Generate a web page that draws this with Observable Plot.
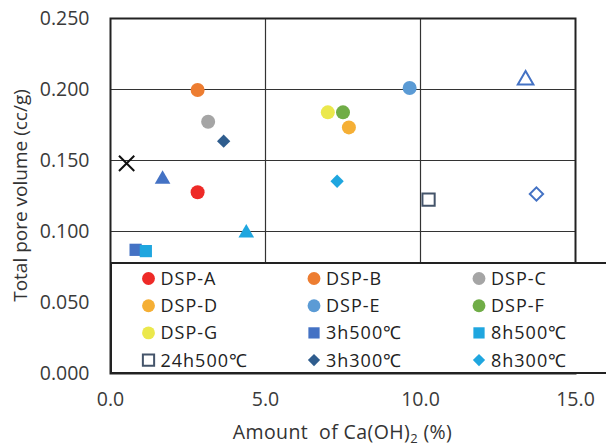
<!DOCTYPE html>
<html><head><meta charset="utf-8">
<script src="https://cdn.jsdelivr.net/npm/d3@7"></script>
<script src="https://cdn.jsdelivr.net/npm/@observablehq/plot@0.6"></script>
<style>
body{margin:0;background:#fff}
#chart svg{font-family:"Open Sans",sans-serif;overflow:hidden}
</style>
</head><body><div id="chart"></div>
<script>
// ---- data ----
const seriesNames = ["DSP-A","DSP-B","DSP-C","DSP-D","DSP-E","DSP-F","DSP-G","3h500℃","8h500℃","24h500℃","3h300℃","8h300℃","series-13","series-14","series-15","series-16","series-17"];
const xValues = [2.81,2.81,3.15,7.69,9.65,7.50,7.01,0.81,1.14,10.26,3.65,7.31,0.52,1.68,4.38,13.39,13.74];
const yValues = [0.1276,0.1996,0.1773,0.1733,0.2011,0.1839,0.1839,0.0871,0.0862,0.1225,0.1636,0.1354,0.1480,0.1368,0.0989,0.2067,0.1264];
const xTicks = [0, 5, 10, 15];
const yTicks = [0, 0.05, 0.10, 0.15, 0.20, 0.25];
const legendCount = 12;

// ---- styles ----
const symbolOf = ["circle","circle","circle","circle","circle","circle","circle","square","square","square","diamond2","diamond2","times","triangle","triangle","triangle","diamond2"];
const colorOf = ["#ee2a27","#ed7d31","#a5a5a5","#f5af35","#5b9bd5","#70ad47","#ebe84c","#4472c4","#1fa6df","#44546a","#2f5d8e","#1fa6df","#111111","#4472c4","#1fa6df","#4472c4","#4472c4"];
const hollowOf = [false,false,false,false,false,false,false,false,false,true,false,false,true,false,false,true,true];
const radiusBySymbol = {circle:7, square:6.9, diamond2:6, times:7, triangle:5.8};

const W = 606, H = 447;
const mL = 110, mR = 31, mT = 18, mB = 74;

const dotMarks = seriesNames.map((name, i) => Plot.dot([i], {
  x: j => xValues[j], y: j => yValues[j],
  symbol: symbolOf[i], r: radiusBySymbol[symbolOf[i]],
  fill: hollowOf[i] ? "none" : colorOf[i],
  stroke: hollowOf[i] ? colorOf[i] : "none",
  strokeWidth: 2
}));

const chart = Plot.plot({
  width: W, height: H,
  marginLeft: mL, marginRight: mR, marginTop: mT, marginBottom: mB,
  style: {fontSize: "19.5px", fontFamily: "'Open Sans', sans-serif", color: "#333", background: "#fff"},
  x: {domain: [0, 15]},
  y: {domain: [0, 0.25]},
  marks: [
    Plot.ruleY(yTicks.slice(1, -1), {stroke: "#333", strokeWidth: 1.2}),
    Plot.ruleX(xTicks.slice(1, -1), {stroke: "#333", strokeWidth: 1.2}),
    Plot.axisX({ticks: xTicks, tickFormat: d => d.toFixed(1), tickSize: 0, tickPadding: 19, label: null, fill: "#3a3a3a"}),
    Plot.axisY({ticks: yTicks, tickFormat: d => d.toFixed(3), tickSize: 0, tickPadding: 21, label: null, fill: "#3a3a3a"}),
    Plot.frame({stroke: "#222", strokeWidth: 2}),
    ...dotMarks
  ]
});
document.getElementById("chart").append(chart);

const svg = d3.select(chart);
const xs = chart.scale("x"), ys = chart.scale("y");
const plotLeft = xs.range[0], plotRight = xs.range[1];
const plotTop = ys.range[1], plotBottom = ys.range[0];

// ---- legend box ----
const lg = svg.append("g").attr("font-family", "'Open Sans', sans-serif").attr("font-size", 18).attr("text-anchor", "start");
const boxTop = plotBottom - 110;
lg.append("rect").attr("x", plotLeft + 1).attr("y", boxTop).attr("width", 520).attr("height", plotBottom - boxTop)
  .attr("fill", "#fff").attr("stroke", "#222").attr("stroke-width", 2);
const colX = [plotLeft + 38.5, plotLeft + 204, plotLeft + 369];
const rowY0 = boxTop + 15.5, rowStep = 27.2;
const d3Sym = {circle: d3.symbolCircle, square: d3.symbolSquare, diamond2: d3.symbolDiamond2, times: d3.symbolTimes, triangle: d3.symbolTriangle};
for (let i = 0; i < legendCount; i++) {
  const cx = colX[i % 3], cy = rowY0 + Math.floor(i / 3) * rowStep;
  const sym = symbolOf[i], r = radiusBySymbol[sym] * 0.92;
  lg.append("path").attr("transform", `translate(${cx},${cy})`)
    .attr("d", d3.symbol(d3Sym[sym], Math.PI * r * r)())
    .attr("fill", hollowOf[i] ? "#fff" : colorOf[i])
    .attr("stroke", hollowOf[i] ? colorOf[i] : "none").attr("stroke-width", 2);
  lg.append("text").attr("x", cx + 12).attr("y", cy).attr("dy", "0.36em")
    .attr("fill", "#222").attr("letter-spacing", 1).text(seriesNames[i]);
}

// ---- axis titles ----
svg.append("text").attr("transform", `translate(20,${(plotTop + plotBottom) / 2}) rotate(-90)`)
  .attr("text-anchor", "middle").attr("dy", "0.35em").attr("font-size", 19).attr("fill", "#333")
  .text("Total pore volume (cc/g)");
const xt = svg.append("text").attr("x", (plotLeft + plotRight) / 2).attr("y", 439)
  .attr("text-anchor", "middle").attr("font-size", 19.5).attr("fill", "#333").attr("letter-spacing", 0.4);
xt.append("tspan").text("Amount  of Ca(OH)");
xt.append("tspan").attr("font-size", 13).attr("dy", 4).text("2");
xt.append("tspan").attr("dy", -4).text(" (%)");
</script>
</body></html>
